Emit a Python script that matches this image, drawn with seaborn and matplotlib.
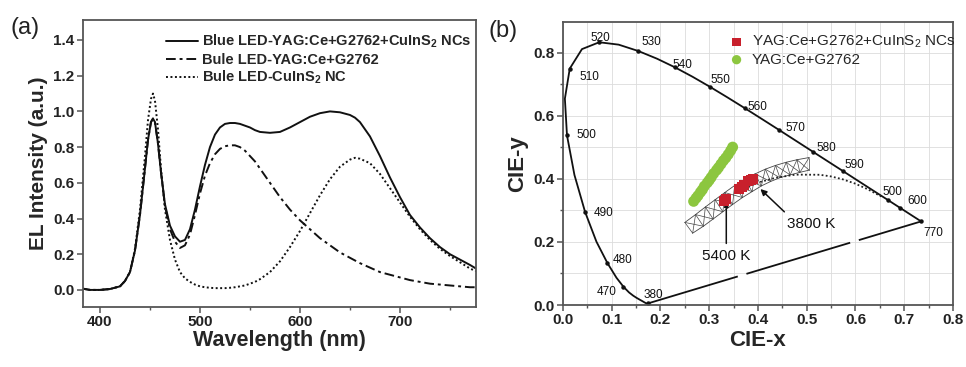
import matplotlib
matplotlib.use("Agg")
import matplotlib.pyplot as plt
import numpy as np
import pandas as pd
import seaborn as sns
from matplotlib.ticker import MultipleLocator

# ---------------- panel (a): EL spectra ----------------
wavelength = [380, 390, 400, 410, 420, 425, 430, 435, 440, 445, 448, 451, 453, 455, 458, 461,
              465, 470, 475, 480, 485, 490, 495, 500, 505, 510, 515, 520, 525, 530, 535, 540,
              545, 550, 555, 560, 570, 580, 590, 600, 610, 620, 630, 640, 650, 655, 660, 670,
              680, 690, 700, 710, 720, 730, 740, 750, 760, 770, 776]
el_total = [0.01, 0.0, 0.0, 0.005, 0.02, 0.05, 0.10, 0.22, 0.42, 0.68, 0.84, 0.94, 0.96, 0.94, 0.82, 0.66,
            0.48, 0.36, 0.30, 0.27, 0.28, 0.34, 0.45, 0.58, 0.70, 0.80, 0.87, 0.91, 0.93, 0.935, 0.935, 0.93,
            0.92, 0.91, 0.895, 0.885, 0.88, 0.885, 0.91, 0.94, 0.97, 0.99, 1.0, 0.995, 0.98, 0.965, 0.94, 0.86,
            0.75, 0.63, 0.52, 0.42, 0.35, 0.29, 0.24, 0.20, 0.17, 0.14, 0.12]
el_yag = [0.01, 0.0, 0.0, 0.005, 0.02, 0.05, 0.10, 0.22, 0.42, 0.68, 0.84, 0.94, 0.96, 0.94, 0.82, 0.66,
          0.47, 0.34, 0.27, 0.235, 0.25, 0.31, 0.42, 0.54, 0.64, 0.71, 0.76, 0.79, 0.805, 0.81, 0.81, 0.80,
          0.78, 0.75, 0.72, 0.68, 0.60, 0.52, 0.45, 0.39, 0.34, 0.29, 0.25, 0.21, 0.18, 0.165, 0.15, 0.125,
          0.10, 0.085, 0.07, 0.055, 0.045, 0.035, 0.03, 0.025, 0.02, 0.015, 0.015]
el_cis = [0.01, 0.0, 0.0, 0.005, 0.02, 0.05, 0.10, 0.23, 0.45, 0.75, 0.95, 1.07, 1.10, 1.06, 0.90, 0.68,
          0.45, 0.28, 0.17, 0.10, 0.065, 0.045, 0.03, 0.02, 0.015, 0.012, 0.01, 0.01, 0.01, 0.012, 0.015, 0.02,
          0.025, 0.035, 0.045, 0.06, 0.10, 0.16, 0.24, 0.33, 0.43, 0.53, 0.62, 0.69, 0.73, 0.74, 0.735, 0.71,
          0.65, 0.57, 0.49, 0.41, 0.34, 0.28, 0.23, 0.19, 0.155, 0.12, 0.105]
series_labels = ["Blue LED-YAG:Ce+G2762+CuInS$_\\mathbf{2}$ NCs",
                 "Bule LED-YAG:Ce+G2762",
                 "Bule LED-CuInS$_\\mathbf{2}$ NC"]
x_ticks_a = [400, 500, 600, 700]
y_ticks_a = [0.0, 0.2, 0.4, 0.6, 0.8, 1.0, 1.2, 1.4]

# ---------------- panel (b): CIE 1931 diagram ----------------
locus_nm = [380, 385, 390, 395, 400, 405, 410, 415, 420, 425, 430, 435, 440, 445, 450, 455, 460, 465,
            470, 475, 480, 485, 490, 495, 500, 505, 510, 515, 520, 525, 530, 535, 540, 545, 550, 555,
            560, 565, 570, 575, 580, 585, 590, 595, 600, 605, 610, 615, 620, 625, 630, 640, 650, 660,
            680, 700, 770]
locus_x = [0.1741, 0.1740, 0.1738, 0.1736, 0.1733, 0.1730, 0.1726, 0.1721, 0.1714, 0.1703, 0.1689, 0.1669,
           0.1644, 0.1611, 0.1566, 0.1510, 0.1440, 0.1355, 0.1241, 0.1096, 0.0913, 0.0687, 0.0454, 0.0235,
           0.0082, 0.0039, 0.0139, 0.0389, 0.0743, 0.1142, 0.1547, 0.1929, 0.2296, 0.2658, 0.3016, 0.3373,
           0.3731, 0.4087, 0.4441, 0.4788, 0.5125, 0.5448, 0.5752, 0.6029, 0.6270, 0.6482, 0.6658, 0.6801,
           0.6915, 0.7006, 0.7079, 0.7190, 0.7260, 0.7300, 0.7334, 0.7347, 0.7347]
locus_y = [0.0050, 0.0050, 0.0049, 0.0049, 0.0048, 0.0048, 0.0048, 0.0048, 0.0051, 0.0058, 0.0069, 0.0086,
           0.0109, 0.0138, 0.0177, 0.0227, 0.0297, 0.0399, 0.0578, 0.0868, 0.1327, 0.2007, 0.2950, 0.4127,
           0.5384, 0.6548, 0.7502, 0.8120, 0.8338, 0.8262, 0.8059, 0.7816, 0.7543, 0.7243, 0.6923, 0.6589,
           0.6245, 0.5896, 0.5547, 0.5202, 0.4866, 0.4544, 0.4242, 0.3965, 0.3725, 0.3514, 0.3340, 0.3197,
           0.3083, 0.2993, 0.2920, 0.2809, 0.2740, 0.2700, 0.2666, 0.2653, 0.2653]
# wavelength labels as printed on the chart, attached to locus wavelengths
label_nm = [380, 470, 480, 490, 500, 510, 520, 530, 540, 550, 560, 570, 580, 590, 610, 620, 770]
label_txt = ["380", "470", "480", "490", "500", "510", "520", "530", "540", "550", "560", "570",
             "580", "590", "500", "600", "770"]
label_off_px = [(5, -8), (-17, 5), (15, -3), (18, 1), (19, 0), (20, 8), (1, -4), (13, -9), (8, -2),
                (10, -7), (13, -1), (16, -2), (14, -4), (11, -6), (5, -8), (17, -7), (12, 12)]

planck_x = [0.3805, 0.4053, 0.4369, 0.4770, 0.5267, 0.5491, 0.5729, 0.5985, 0.6251, 0.6528]
planck_y = [0.3768, 0.3907, 0.4041, 0.4137, 0.4133, 0.4082, 0.3993, 0.3858, 0.3674, 0.3444]

band_upper_x = [0.250, 0.272, 0.292, 0.312, 0.332, 0.352, 0.373, 0.394, 0.415, 0.436, 0.458, 0.480, 0.505]
band_upper_y = [0.262, 0.287, 0.311, 0.334, 0.357, 0.379, 0.399, 0.416, 0.431, 0.443, 0.453, 0.461, 0.468]
band_lower_x = [0.266, 0.288, 0.308, 0.328, 0.348, 0.368, 0.388, 0.407, 0.426, 0.445, 0.466, 0.486, 0.505]
band_lower_y = [0.228, 0.250, 0.273, 0.296, 0.319, 0.341, 0.360, 0.378, 0.392, 0.404, 0.413, 0.421, 0.428]

cis_pts_x = [0.330, 0.334, 0.362, 0.367, 0.372, 0.380, 0.386, 0.390]
cis_pts_y = [0.330, 0.337, 0.368, 0.376, 0.382, 0.392, 0.398, 0.401]
yag_pts_x = [0.268, 0.273, 0.277, 0.282, 0.286, 0.290, 0.296, 0.300, 0.304, 0.309, 0.315, 0.319,
             0.324, 0.329, 0.334, 0.339, 0.344, 0.348]
yag_pts_y = [0.329, 0.339, 0.347, 0.358, 0.366, 0.377, 0.388, 0.396, 0.405, 0.417, 0.428, 0.436,
             0.447, 0.458, 0.467, 0.478, 0.490, 0.501]
point_labels = ["YAG:Ce+G2762+CuInS$_2$ NCs", "YAG:Ce+G2762"]
annot_cct = ["3800 K", "5400 K"]
annot_xy = [(0.405, 0.368), (0.335, 0.326)]
annot_text_xy = [(0.510, 0.257), (0.335, 0.154)]

# ---------------- style ----------------
sns.set_theme(style="white")
plt.rcParams["font.family"] = ["Liberation Sans", "DejaVu Sans"]
plt.rcParams["mathtext.fontset"] = "custom"
plt.rcParams["mathtext.rm"] = "Liberation Sans"
plt.rcParams["mathtext.it"] = "Liberation Sans:italic"
plt.rcParams["mathtext.bf"] = "Liberation Sans:bold"

fig = plt.figure(figsize=(9.66, 3.67), dpi=100)
ax1 = fig.add_axes([0.0859, 0.1643, 0.4068, 0.7812])
ax2 = fig.add_axes([0.5828, 0.1689, 0.4037, 0.7711])

# ---- panel (a)
df_a = pd.DataFrame({"wl": wavelength, "total": el_total, "yag": el_yag, "cis": el_cis})
line_kw = dict(color="#111111", linewidth=1.4)
sns.lineplot(data=df_a, x="wl", y="total", ax=ax1, label=series_labels[0], linestyle="-", **line_kw)
sns.lineplot(data=df_a, x="wl", y="yag", ax=ax1, label=series_labels[1],
             linestyle=(0, (5, 2, 1.5, 2)), **line_kw)
sns.lineplot(data=df_a, x="wl", y="cis", ax=ax1, label=series_labels[2],
             linestyle=(0, (1, 1.3)), **line_kw)
ax1.set_xlim(383, 776)
ax1.set_ylim(-0.094, 1.512)
ax1.set_xticks(x_ticks_a)
ax1.set_yticks(y_ticks_a)
ax1.set_yticklabels([f"{v:.1f}" for v in y_ticks_a])
ax1.xaxis.set_minor_locator(MultipleLocator(50))
ax1.set_xlabel("Wavelength (nm)", fontsize=15.5, fontweight="bold", labelpad=1)
ax1.set_ylabel("EL Intensity (a.u.)", fontsize=15, fontweight="bold", labelpad=4)
leg1 = ax1.legend(loc="upper right", bbox_to_anchor=(1.01, 0.985), frameon=False,
                  prop={"size": 10.5, "weight": "bold"}, handlelength=2.2, handletextpad=0.25,
                  labelspacing=0.15, borderaxespad=0.2)

# ---- panel (b)
ax2.grid(True, which="both", color="#dcdcdc", linewidth=0.6)
ax2.set_axisbelow(True)
df_loc = pd.DataFrame({"x": locus_x[:-1], "y": locus_y[:-1], "nm": locus_nm[:-1]})
sns.lineplot(data=df_loc, x="x", y="y", sort=False, estimator=None, ax=ax2,
             color="#111111", linewidth=1.3)
ax2.plot([locus_x[0], locus_x[-1]], [locus_y[0], locus_y[-1]], color="#111111",
         linewidth=1.3, linestyle=(8, (60, 5)))
loc_lookup = dict(zip(locus_nm, zip(locus_x, locus_y)))
for nm, txt, off in zip(label_nm, label_txt, label_off_px):
    px, py = loc_lookup[nm]
    ax2.plot(px, py, "o", color="#111111", markersize=2.2)
    ax2.annotate(txt, xy=(px, py), xytext=(off[0], -off[1]), textcoords="offset pixels",
                 ha="center", va="center", fontsize=8.5, color="#111111")

# isotemperature mesh
for i in range(len(band_upper_x)):
    ax2.plot([band_upper_x[i], band_lower_x[i]], [band_upper_y[i], band_lower_y[i]],
             color="#444444", linewidth=0.5)
    if i < len(band_upper_x) - 1:
        ax2.plot([band_upper_x[i], band_lower_x[i + 1]], [band_upper_y[i], band_lower_y[i + 1]],
                 color="#444444", linewidth=0.5)
        ax2.plot([band_lower_x[i], band_upper_x[i + 1]], [band_lower_y[i], band_upper_y[i + 1]],
                 color="#444444", linewidth=0.5)
ax2.plot(band_upper_x, band_upper_y, color="#444444", linewidth=0.6)
ax2.plot(band_lower_x, band_lower_y, color="#444444", linewidth=0.6)

sns.lineplot(x=planck_x, y=planck_y, sort=False, estimator=None, ax=ax2,
             color="#222222", linewidth=1.3, linestyle=(0, (1, 1.3)))

df_pts = pd.DataFrame({
    "x": cis_pts_x + yag_pts_x,
    "y": cis_pts_y + yag_pts_y,
    "grp": [point_labels[0]] * len(cis_pts_x) + [point_labels[1]] * len(yag_pts_x),
})
sns.scatterplot(data=df_pts[df_pts.grp == point_labels[1]], x="x", y="y", ax=ax2,
                marker="o", s=62, color="#8cc63f", edgecolor="none", label=point_labels[1], zorder=4)
sns.scatterplot(data=df_pts[df_pts.grp == point_labels[0]], x="x", y="y", ax=ax2,
                marker="s", s=52, color="#c8202c", edgecolor="none", label=point_labels[0], zorder=5)

ax2.annotate(annot_cct[0], xy=annot_xy[0], xytext=annot_text_xy[0], ha="center", va="center",
             fontsize=11, color="#111111",
             arrowprops=dict(arrowstyle="-|>", color="#111111", lw=1.1, mutation_scale=9,
                             relpos=(0.05, 1.0), shrinkA=2, shrinkB=0))
ax2.annotate(annot_cct[1], xy=annot_xy[1], xytext=annot_text_xy[1], ha="center", va="center",
             fontsize=11, color="#111111",
             arrowprops=dict(arrowstyle="-|>", color="#111111", lw=1.1, mutation_scale=6,
                             relpos=(0.5, 1.0), shrinkA=2, shrinkB=0))

ax2.set_xlim(0, 0.8)
ax2.set_ylim(0, 0.898)
ax2.set_xticks(np.arange(0, 0.81, 0.1))
ax2.set_xticklabels([f"{v:.1f}" for v in np.arange(0, 0.81, 0.1)])
ax2.set_yticks([0.0, 0.2, 0.4, 0.6, 0.8])
ax2.set_yticklabels(["0.0", "0.2", "0.4", "0.6", "0.8"])
ax2.xaxis.set_minor_locator(MultipleLocator(0.05))
ax2.yaxis.set_minor_locator(MultipleLocator(0.1))
ax2.set_xlabel("CIE-x", fontsize=16, fontweight="bold", labelpad=2)
ax2.set_ylabel("CIE-y", fontsize=16, fontweight="bold", labelpad=4)
handles, labels = ax2.get_legend_handles_labels()
order = [labels.index(point_labels[0]), labels.index(point_labels[1])]
ax2.legend([handles[i] for i in order], [labels[i] for i in order], loc="upper right",
           bbox_to_anchor=(1.03, 0.99), frameon=False, fontsize=11, handletextpad=0.0,
           labelspacing=0.15, borderaxespad=0.2, markerscale=0.85)

for ax in (ax1, ax2):
    for sp in ax.spines.values():
        sp.set_color("#555555")
        sp.set_linewidth(1.3)
    ax.tick_params(which="major", direction="out", length=4, width=1.1, color="#555555",
                   labelsize=11, labelcolor="#222222", pad=2, bottom=True, left=True)
    ax.tick_params(which="minor", direction="out", length=2.5, width=1.0, color="#555555",
                   bottom=True, left=True)
    for lab in ax.get_xticklabels() + ax.get_yticklabels():
        lab.set_fontweight("bold")

fig.text(10 / 966, 1 - 28 / 367, "(a)", fontsize=17, ha="left", va="center", color="#222222")
fig.text(489 / 966, 1 - 31 / 367, "(b)", fontsize=17, ha="left", va="center", color="#222222")

fig.savefig("out.png", dpi=100)
